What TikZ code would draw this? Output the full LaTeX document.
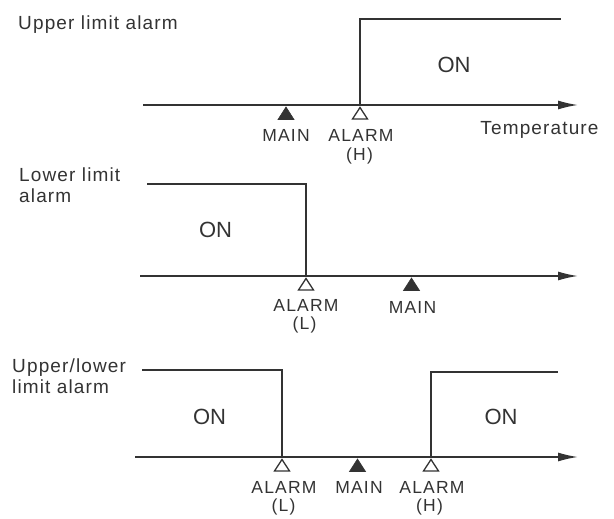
\documentclass[tikz,border=0pt]{standalone}
\usepackage{fontspec}
\usetikzlibrary{arrows.meta}
\newfontfamily\headfam[LetterSpace=6]{Liberation Sans}
\newfontfamily\labfam[LetterSpace=7]{Liberation Sans}
\newfontfamily\onfam{Liberation Sans}
\definecolor{ink}{HTML}{333333}
\tikzset{
  axisline/.style={draw=ink, line width=1.6pt, -{Latex[length=20pt,width=9pt]}},
  sigline/.style={draw=ink, line width=1.6pt},
  headtxt/.style={inner sep=0pt, anchor=north west, align=left, text=ink,
    font=\headfam\fontsize{19}{21}\selectfont},
  temptxt/.style={inner sep=0pt, anchor=base, text=ink,
    font=\headfam\fontsize{19}{21}\selectfont},
  labtxt/.style={inner sep=0pt, anchor=center, text=ink,
    font=\labfam\fontsize{17.5}{20}\selectfont},
  ontxt/.style={inner sep=0pt, anchor=center, text=ink,
    font=\onfam\fontsize{22}{24}\selectfont},
  mainmark/.style={fill=ink, draw=ink, line width=0.6pt, line join=miter},
  alarmmark/.style={draw=ink, fill=white, line width=1.3pt, line join=miter},
}
\newcommand{\mainat}[2]{\path[mainmark] (#1-8,#2+14.5) -- (#1+8,#2+14.5) -- (#1,#2+2) -- cycle;}
\newcommand{\alarmat}[2]{\path[alarmmark] (#1-7.5,#2+14) -- (#1+7.5,#2+14) -- (#1,#2+2.5) -- cycle;}
\begin{document}
\begin{tikzpicture}[x=1pt,y=-1pt]
\useasboundingbox (0,0) rectangle (614,519);
% ---------- Panel 1: upper limit alarm ----------
\node[headtxt] (h1) at (18,15.4) {Upper limit alarm};
\coordinate (a1s) at (143,105);
\coordinate (a1e) at (578,105);
\draw[axisline] (a1s) -- (a1e);
\coordinate (s1b) at (360,105);
\coordinate (s1t) at (360,19);
\coordinate (s1e) at (561,19);
\draw[sigline] (s1b) -- (s1t) -- (s1e);
\node[ontxt] (on1) at (454,64.5) {ON};
\mainat{286}{105}
\alarmat{360}{105}
\node[labtxt] (m1) at (286,135.5) {MAIN};
\node[labtxt] (al1) at (361,135.5) {ALARM};
\node[labtxt] (h1p) at (359.5,156) {(H)};
\node[temptxt] (temp) at (539.5,135) {Temperature};
% ---------- Panel 2: lower limit alarm ----------
\node[headtxt] (h2) at (19,167.2) {Lower limit\\alarm};
\coordinate (a2s) at (140,276);
\coordinate (a2e) at (578,276);
\draw[axisline] (a2s) -- (a2e);
\coordinate (s2s) at (147,184);
\coordinate (s2t) at (306,184);
\coordinate (s2b) at (306,276);
\draw[sigline] (s2s) -- (s2t) -- (s2b);
\node[ontxt] (on2) at (215.5,230) {ON};
\alarmat{306}{276}
\mainat{411.5}{276}
\node[labtxt] (al2) at (306,305.5) {ALARM};
\node[labtxt] (l2p) at (304.5,325) {(L)};
\node[labtxt] (m2) at (412.5,307) {MAIN};
% ---------- Panel 3: upper/lower limit alarm ----------
\node[headtxt] (h3) at (12,358.2) {Upper/lower\\limit alarm};
\coordinate (a3s) at (135,457);
\coordinate (a3e) at (578,457);
\draw[axisline] (a3s) -- (a3e);
\coordinate (s3s) at (142,370);
\coordinate (s3t) at (282,370);
\coordinate (s3b) at (282,457);
\draw[sigline] (s3s) -- (s3t) -- (s3b);
\coordinate (r3b) at (431,457);
\coordinate (r3t) at (431,372);
\coordinate (r3e) at (558,372);
\draw[sigline] (r3b) -- (r3t) -- (r3e);
\node[ontxt] (on3l) at (209.5,417) {ON};
\node[ontxt] (on3r) at (501,417) {ON};
\alarmat{282}{457}
\mainat{357.5}{457}
\alarmat{431}{457}
\node[labtxt] (al3l) at (284,487) {ALARM};
\node[labtxt] (l3p) at (283.5,507) {(L)};
\node[labtxt] (m3) at (359,487) {MAIN};
\node[labtxt] (al3h) at (432,487) {ALARM};
\node[labtxt] (h3p) at (429.5,507) {(H)};
\end{tikzpicture}
\end{document}
